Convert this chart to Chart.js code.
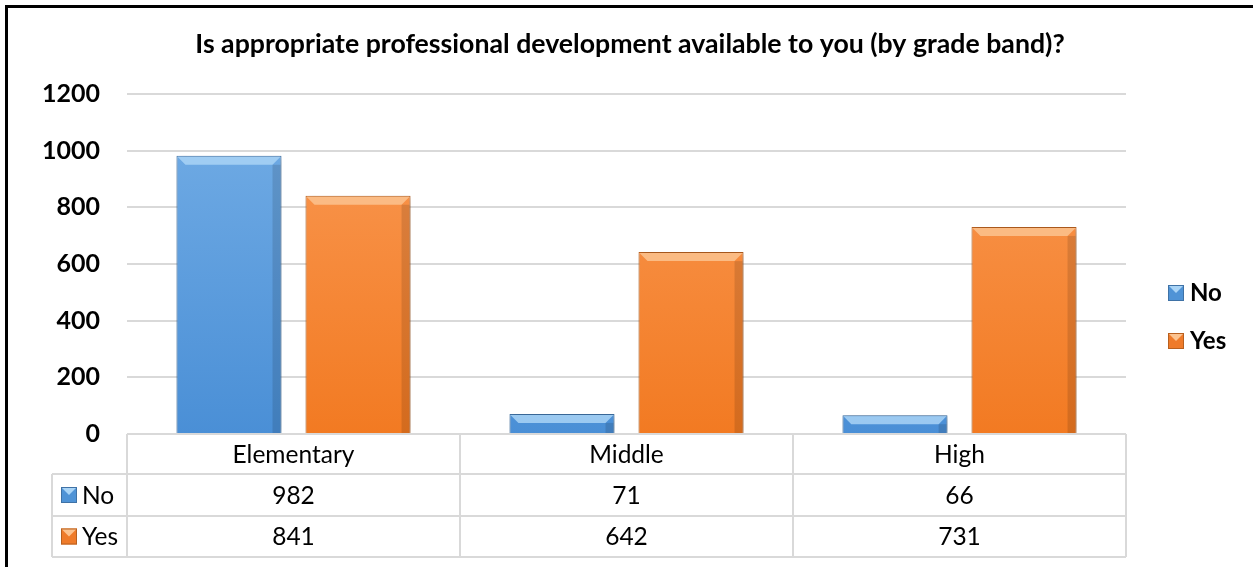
<!DOCTYPE html>
<html lang="en">
  <head>
    <meta charset="UTF-8" />
    <title>Professional development by grade band</title>
    <style>
      html, body { margin: 0; padding: 0; background: #fff; overflow: hidden; }
      body { font-family: Lato, "Open Sans", sans-serif; }
      #frame {
        position: absolute; left: 5px; top: 5px;
        width: 1400px; height: 800px;
        border: 3px solid #000; box-sizing: border-box;
      }
      #wrap { position: absolute; left: 0; top: 0; width: 1253px; height: 567px; }
    </style>
    <script src="https://cdn.jsdelivr.net/npm/chart.js"></script>
  </head>
  <body>
    <div id="frame"></div>
    <div id="wrap"><canvas id="pdChart" width="1253" height="567"></canvas></div>

    <script>
      // data
      const chartTitle = "Is appropriate professional development available to you (by grade band)?";
      const categories = ["Elementary", "Middle", "High"];
      const seriesNames = ["No", "Yes"];
      const noValues = [982, 71, 66];
      const yesValues = [841, 642, 731];
      const yTicks = [0, 200, 400, 600, 800, 1000, 1200];

      const FONT = "Lato, 'Open Sans', sans-serif";
      const colors = {
        No: { top: "#74aee6", bottom: "#4a8fd6", border: "#3f72a6", bevel: "#a9d4f6", key: "#4f93d6" },
        Yes: { top: "#fa9a55", bottom: "#f27a22", border: "#b8601f", bevel: "#fcc38f", key: "#ef7b2a" }
      };

      function gradientFor(name) {
        return function (ctx) {
          const area = ctx.chart.chartArea;
          if (!area) return colors[name].bottom;
          const g = ctx.chart.ctx.createLinearGradient(0, area.top, 0, area.bottom);
          g.addColorStop(0, colors[name].top);
          g.addColorStop(1, colors[name].bottom);
          return g;
        };
      }

      function drawKey(ctx, x, yMid, name) {
        const c = colors[name];
        ctx.fillStyle = c.key;
        ctx.fillRect(x, yMid - 8, 16, 16);
        ctx.fillStyle = c.bevel;
        ctx.beginPath();
        ctx.moveTo(x, yMid - 8);
        ctx.lineTo(x + 16, yMid - 8);
        ctx.lineTo(x + 8, yMid);
        ctx.closePath();
        ctx.fill();
        ctx.strokeStyle = c.border;
        ctx.lineWidth = 1;
        ctx.strokeRect(x + 0.5, yMid - 7.5, 15, 15);
      }

      // title, legend, bar bevels and the data table underneath
      const extrasPlugin = {
        id: "extras",
        beforeDatasetsDraw(chart) {
          const ctx = chart.ctx;
          ctx.save();
          ctx.shadowColor = "rgba(0,0,0,0.28)";
          ctx.shadowBlur = 7;
          ctx.shadowOffsetX = 2;
          ctx.shadowOffsetY = 1;
        },
        afterDatasetsDraw(chart) {
          const ctx = chart.ctx;
          ctx.restore();
          // bevel on top of each bar
          chart.data.datasets.forEach((ds, di) => {
            const c = colors[ds.label];
            chart.getDatasetMeta(di).data.forEach((bar) => {
              const p = bar.getProps(["x", "y", "width", "base"], true);
              const l = p.x - p.width / 2, r = p.x + p.width / 2;
              const b = Math.min(9, (p.base - p.y) / 2);
              ctx.fillStyle = c.bevel;
              ctx.globalAlpha = 0.85;
              ctx.beginPath();
              ctx.moveTo(l + 1, p.y + 1);
              ctx.lineTo(r - 1, p.y + 1);
              ctx.lineTo(r - b, p.y + b);
              ctx.lineTo(l + b, p.y + b);
              ctx.closePath();
              ctx.fill();
              ctx.globalAlpha = 0.12;
              ctx.fillStyle = "#000";
              ctx.fillRect(r - b, p.y + b, b - 1, p.base - p.y - b);
              ctx.globalAlpha = 1;
            });
          });
        },
        afterDraw(chart) {
          const ctx = chart.ctx;
          const area = chart.chartArea;
          const xs = chart.scales.x;
          ctx.save();

          // title
          ctx.fillStyle = "#000";
          ctx.font = "bold 26.7px " + FONT;
          ctx.textAlign = "center";
          ctx.textBaseline = "middle";
          ctx.fillText(chartTitle, 630, 44);

          // legend on the right
          ctx.textAlign = "left";
          ctx.font = "bold 24px " + FONT;
          const legendY = [293, 341];
          seriesNames.forEach((n, i) => {
            drawKey(ctx, 1168, legendY[i], n);
            ctx.fillStyle = "#000";
            ctx.fillText(n, 1190, legendY[i]);
          });

          // data table
          const catW = (area.right - area.left) / categories.length;
          const rows = [area.bottom, 474, 516, 557];
          const keyLeft = 52;
          ctx.strokeStyle = "#d9d9d9";
          ctx.lineWidth = 2;
          ctx.beginPath();
          ctx.moveTo(area.left, rows[0]); ctx.lineTo(area.right, rows[0]);
          for (let r = 1; r < rows.length; r++) {
            ctx.moveTo(keyLeft, rows[r]); ctx.lineTo(area.right, rows[r]);
          }
          ctx.moveTo(keyLeft, rows[1]); ctx.lineTo(keyLeft, rows[3]);
          for (let i = 0; i <= categories.length; i++) {
            const x = i < categories.length ? xs.getPixelForValue(i) - catW / 2 : area.right;
            ctx.moveTo(x, rows[0]); ctx.lineTo(x, rows[3]);
          }
          ctx.stroke();

          ctx.fillStyle = "#000";
          ctx.font = "24.5px " + FONT;
          ctx.textAlign = "center";
          const tableRows = [noValues, yesValues];
          categories.forEach((cat, i) => {
            const cx = xs.getPixelForValue(i);
            ctx.fillText(cat, cx, (rows[0] + rows[1]) / 2 + 1);
            tableRows.forEach((vals, r) => {
              ctx.fillText(String(vals[i]), cx, (rows[r + 1] + rows[r + 2]) / 2 + 1);
            });
          });
          ctx.textAlign = "left";
          seriesNames.forEach((n, r) => {
            const yMid = (rows[r + 1] + rows[r + 2]) / 2;
            drawKey(ctx, 61, yMid, n);
            ctx.fillStyle = "#000";
            ctx.fillText(n, 82, yMid + 1);
          });
          ctx.restore();
        }
      };

      const ctx = document.getElementById("pdChart").getContext("2d");
      new Chart(ctx, {
        type: "bar",
        data: {
          labels: categories,
          datasets: [
            {
              label: seriesNames[0],
              data: noValues,
              backgroundColor: gradientFor("No"),
              borderColor: colors.No.border,
              borderWidth: 1
            },
            {
              label: seriesNames[1],
              data: yesValues,
              backgroundColor: gradientFor("Yes"),
              borderColor: colors.Yes.border,
              borderWidth: 1
            }
          ]
        },
        options: {
          responsive: false,
          animation: false,
          categoryPercentage: 0.775,
          barPercentage: 0.814,
          layout: { padding: { left: 0, right: 127, top: 94, bottom: 133 } },
          plugins: {
            legend: { display: false },
            title: { display: false },
            tooltip: { enabled: false }
          },
          scales: {
            x: { display: false },
            y: {
              min: 0,
              max: 1200,
              afterBuildTicks(scale) {
                scale.ticks = yTicks.map((v) => ({ value: v }));
              },
              afterFit(scale) {
                scale.width = 127;
              },
              border: { display: false },
              grid: { color: "#d9d9d9", lineWidth: 2, drawTicks: false },
              ticks: {
                padding: 27,
                color: "#000",
                font: { family: FONT, size: 25, weight: "bold" },
                callback: (v) => String(v)
              }
            }
          }
        },
        plugins: [extrasPlugin]
      });
    </script>
  </body>
</html>
